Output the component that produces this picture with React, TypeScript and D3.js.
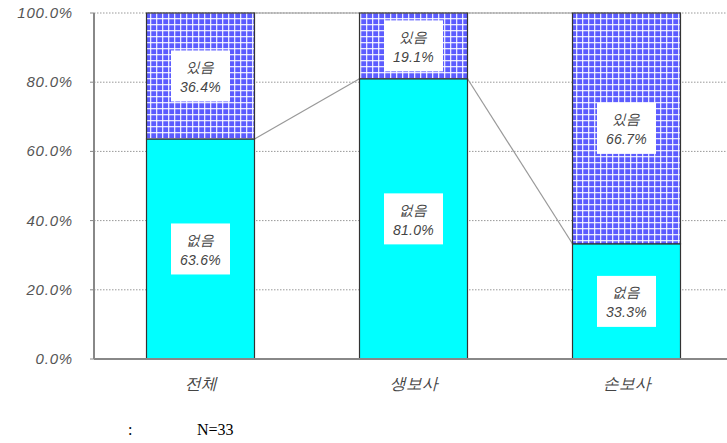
import React from "react";
import * as d3 from "d3";

const categories = ["전체", "생보사", "손보사"];
const noneValues = [63.6, 81.0, 33.3];
const someValues = [36.4, 19.1, 66.7];
const noneLabel = "없음";
const someLabel = "있음";
const yTicks = [0, 20, 40, 60, 80, 100];
const footer = "N=33";

const W = 727, H = 443;
const left = 94, top = 13, bottom = 359, right = 733;

export default function App() {
  const x = d3.scaleBand<string>().domain(categories).range([left, right]).paddingInner(0.493).paddingOuter(0.2465);
  const y = d3.scaleLinear().domain([0, 100]).range([bottom, top]);
  const bw = x.bandwidth();
  const fmt = (v: number) => v.toFixed(1) + "%";
  const stacks = categories.map((c, i) => ({
    c,
    x0: x(c)!,
    segs: [
      { label: noneLabel, v: noneValues[i], y0: 0, y1: noneValues[i], fill: "#00ffff" },
      { label: someLabel, v: someValues[i], y0: noneValues[i], y1: Math.min(100, noneValues[i] + someValues[i]), fill: "url(#grid)" },
    ],
  }));
  const font = "'Liberation Sans', Arial, sans-serif";
  return (
    <svg width={W} height={H} style={{ position: "absolute", left: 0, top: 0 }}>
      <defs>
        <pattern id="grid" width={6} height={6} patternUnits="userSpaceOnUse">
          <rect width={6} height={6} fill="#5c5cff" />
          <rect x={0} y={0} width={1.3} height={6} fill="#ffffff" opacity={0.85} />
          <rect x={0} y={0} width={6} height={1.3} fill="#ffffff" opacity={0.85} />
        </pattern>
      </defs>
      <rect width={W} height={H} fill="#fff" />
      {yTicks.filter((t) => t > 0).map((t) => (
        <line key={t} x1={left} x2={W} y1={y(t)} y2={y(t)} stroke="#999" strokeDasharray="1.5,1.5" />
      ))}
      {stacks.slice(0, -1).map((s, i) => {
        const n = stacks[i + 1];
        return s.segs.map((seg, j) => (
          <line key={i + "-" + j} x1={s.x0 + bw} x2={n.x0} y1={y(seg.y1)} y2={y(n.segs[j].y1)} stroke="#999" strokeWidth={1.2} />
        ));
      })}
      {stacks.map((s) =>
        s.segs.map((seg, j) => (
          <rect key={s.c + j} x={s.x0} y={y(seg.y1)} width={bw} height={y(seg.y0) - y(seg.y1)} fill={seg.fill} stroke="#333" strokeWidth={1.2} />
        ))
      )}
      {stacks.map((s) =>
        s.segs.map((seg, j) => {
          const cx = s.x0 + bw / 2;
          const cy = (y(seg.y0) + y(seg.y1)) / 2;
          return (
            <g key={"l" + s.c + j}>
              <rect x={cx - 29.5} y={cy - 25.5} width={59} height={51} fill="#fff" />
              <text x={cx} y={cy - 4} textAnchor="middle" fontFamily={font} fontStyle="italic" fontSize={14} letterSpacing={0.3} fill="#444">{seg.label}</text>
              <text x={cx} y={cy + 16} textAnchor="middle" fontFamily={font} fontStyle="italic" fontSize={14} letterSpacing={0.3} fill="#444">{fmt(seg.v)}</text>
            </g>
          );
        })
      )}
      <line x1={left} x2={left} y1={top} y2={bottom} stroke="#888" strokeWidth={2} />
      <line x1={left} x2={W} y1={bottom} y2={bottom} stroke="#888" strokeWidth={2} />
      {yTicks.map((t) => (
        <g key={"t" + t}>
          <line x1={left - 4} x2={left} y1={y(t)} y2={y(t)} stroke="#888" />
          <text x={73} y={y(t) + 5} textAnchor="end" fontFamily={font} fontStyle="italic" fontSize={15} letterSpacing={0.8} fill="#555">{fmt(t)}</text>
        </g>
      ))}
      {categories.map((c) => (
        <text key={c} x={x(c)! + bw / 2} y={389} textAnchor="middle" fontFamily={font} fontStyle="italic" fontSize={16} fill="#444">{c}</text>
      ))}
      <text x={128} y={435} fontFamily="'Liberation Serif', 'Times New Roman', serif" fontSize={16} fill="#000">:</text>
      <text x={197} y={435} fontFamily="'Liberation Serif', 'Times New Roman', serif" fontSize={16} fill="#000">{footer}</text>
    </svg>
  );
}
